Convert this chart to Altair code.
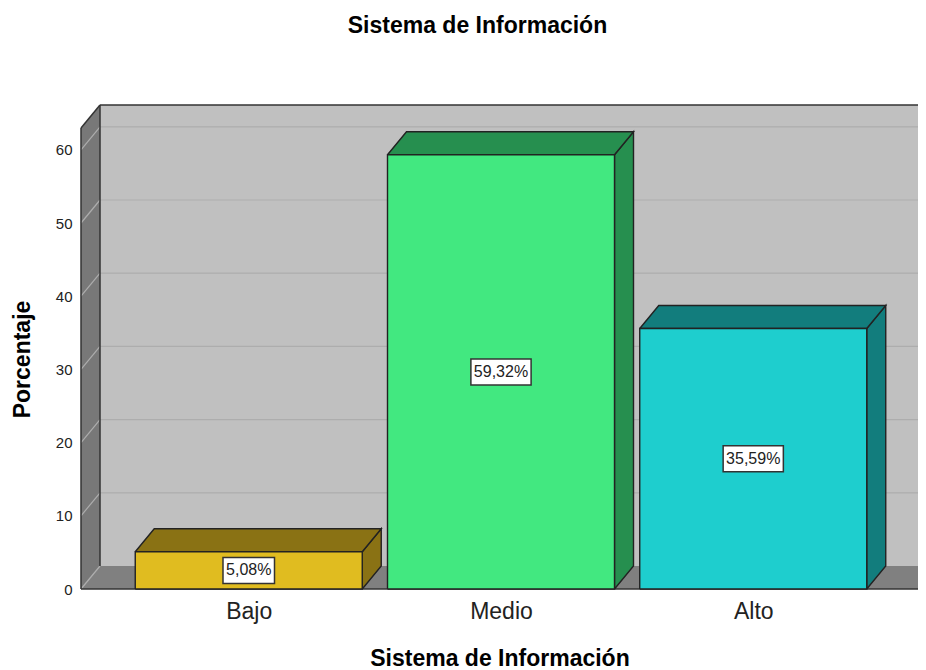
import json
import altair as alt
import pandas as pd

# ---------------- data ----------------
categories = ["Bajo", "Medio", "Alto"]
percentages = [5.08, 59.32, 35.59]
labels = ["5,08%", "59,32%", "35,59%"]
front_colors = ["#e0bc20", "#42e880", "#1ecece"]
shade_colors = ["#8a7214", "#268f4f", "#127d7d"]
y_ticks = [0, 10, 20, 30, 40, 50, 60]

# ---------------- geometry / style constants ----------------
PX_IDX = 252.25          # pixels per category step
PX_Y = 7.32              # pixels per percentage point
W, H = 837, 484          # plot area
X0 = -0.665              # left end of x domain (category index units)
X1 = X0 + W / PX_IDX
YMAX = H / PX_Y
DX = 19 / PX_IDX         # depth offset (x)
DY = 23 / PX_Y           # depth offset (y)
HALF = 113.5 / PX_IDX    # half bar width
FONT = "Liberation Sans"

bg_rows, bar_rows, grid_rows, edge_rows = [], [], [], []


def add_poly(rows, pid, pts, fill):
    for k, (x, y) in enumerate(pts + [pts[0]]):
        rows.append(dict(pid=pid, ord=k, x=x, y=y, fill=fill))


def add_seg(rows, pid, p, q):
    rows.append(dict(pid=pid, ord=0, x=p[0], y=p[1]))
    rows.append(dict(pid=pid, ord=1, x=q[0], y=q[1]))


# back wall, left wall, floor
add_poly(bg_rows, "back", [(X0 + DX, DY), (X1, DY), (X1, YMAX), (X0 + DX, YMAX)], "#c0c0c0")
add_poly(bg_rows, "left", [(X0, 0), (X0 + DX, DY), (X0 + DX, YMAX), (X0, YMAX - DY)], "#787878")
add_poly(bg_rows, "floor", [(X0, 0), (X1, 0), (X1, DY), (X0 + DX, DY)], "#808080")

for v in y_ticks[1:]:
    add_seg(grid_rows, f"gb{v}", (X0 + DX, v + DY), (X1, v + DY))
for v in y_ticks:
    add_seg(grid_rows, f"gl{v}", (X0, v), (X0 + DX, v + DY))

add_seg(edge_rows, "e1", (X0, 0), (X0, YMAX - DY))
add_seg(edge_rows, "e2", (X0, YMAX - DY), (X0 + DX, YMAX))
add_seg(edge_rows, "e3", (X0 + DX, YMAX), (X1, YMAX))
add_seg(edge_rows, "e4", (X0 + DX, DY), (X0 + DX, YMAX))
add_seg(edge_rows, "e5", (X0, 0), (X1, 0))

for i, (v, fc, sc) in enumerate(zip(percentages, front_colors, shade_colors)):
    xl, xr = i - HALF, i + HALF
    add_poly(bar_rows, f"s{i}", [(xr, 0), (xr + DX, DY), (xr + DX, v + DY), (xr, v)], sc)
    add_poly(bar_rows, f"t{i}", [(xl, v), (xr, v), (xr + DX, v + DY), (xl + DX, v + DY)], sc)
    add_poly(bar_rows, f"f{i}", [(xl, 0), (xr, 0), (xr, v), (xl, v)], fc)

box_rows = []
for i, (v, lab) in enumerate(zip(percentages, labels)):
    bw = (8.7 * len(lab) + 8) / PX_IDX
    bh = 26 / PX_Y
    box_rows.append(dict(x=i - bw / 2, x2=i + bw / 2, y=v / 2 - bh / 2, y2=v / 2 + bh / 2,
                         cx=i, cy=v / 2, label=lab))

bg_df = pd.DataFrame(bg_rows)
bar_df = pd.DataFrame(bar_rows)
grid_df = pd.DataFrame(grid_rows)
edge_df = pd.DataFrame(edge_rows)
box_df = pd.DataFrame(box_rows)

label_expr = json.dumps(categories) + "[datum.value]"

x_axis = alt.Axis(values=[0, 1, 2], labelExpr=label_expr, title="Sistema de Información",
                  grid=False, domain=False, ticks=False, labelFontSize=23, labelFont=FONT,
                  labelColor="#222222", labelBaseline="middle", labelPadding=22,
                  titleFont=FONT, titleFontSize=23, titleFontWeight="bold", titleColor="#000000",
                  titleY=69, titleBaseline="middle")
y_axis = alt.Axis(values=y_ticks, title="Porcentaje", grid=False, domain=False, ticks=False,
                  labelFontSize=15, labelFont=FONT, labelColor="#222222", labelPadding=9,
                  titleFont=FONT, titleFontSize=23, titleFontWeight="bold", titleColor="#000000",
                  titleX=-59, titleY=254, titleAngle=270, titleBaseline="middle", titleAlign="center")

xs = alt.Scale(domain=[X0, X1], nice=False, zero=False)
ys = alt.Scale(domain=[0, YMAX], nice=False, zero=False)


def X(field="x"):
    return alt.X(f"{field}:Q", scale=xs, axis=x_axis)


def Y(field="y"):
    return alt.Y(f"{field}:Q", scale=ys, axis=y_axis)


bg = alt.Chart(bg_df).mark_line(strokeWidth=0).encode(
    x=X(), y=Y(), detail="pid:N", order="ord:Q",
    fill=alt.Fill("fill:N", scale=None))

grid = alt.Chart(grid_df).mark_line(stroke="#adadad", strokeWidth=1.2).encode(
    x=X(), y=Y(), detail="pid:N", order="ord:Q")

edges = alt.Chart(edge_df).mark_line(stroke="#333333", strokeWidth=1.5).encode(
    x=X(), y=Y(), detail="pid:N", order="ord:Q")

bars = alt.Chart(bar_df).mark_line(stroke="#222222", strokeWidth=1.4, strokeJoin="miter").encode(
    x=X(), y=Y(), detail="pid:N", order="ord:Q",
    fill=alt.Fill("fill:N", scale=None))

boxes = alt.Chart(box_df).mark_rect(fill="white", stroke="#333333", strokeWidth=1.5).encode(
    x=X(), x2="x2:Q", y=Y(), y2="y2:Q")

texts = alt.Chart(box_df).mark_text(font=FONT, fontSize=16, color="#222222",
                                    baseline="middle", align="center").encode(
    x=X("cx"), y=Y("cy"), text="label:N")

chart = alt.layer(bg, grid, edges, bars, boxes, texts).properties(
    width=W, height=H,
    title=alt.TitleParams("Sistema de Información", font=FONT, fontSize=23, fontWeight="bold",
                          color="#000000", anchor="middle", baseline="middle", offset=53, dx=-22),
    autosize=alt.AutoSizeParams(type="none"),
    padding={"left": 73, "top": 97, "right": 0, "bottom": 85},
).configure_view(stroke=None)

chart.save("out.html", embed_options={"renderer": "svg", "actions": False})
